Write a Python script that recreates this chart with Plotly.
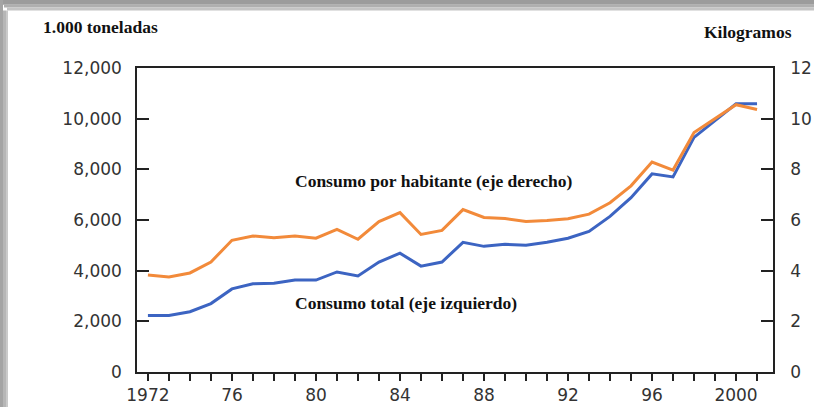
import plotly.graph_objects as go

years = list(range(1972, 2002))
consumo_total = [2230, 2230, 2380, 2700, 3280, 3480, 3500, 3630, 3630, 3950,
                 3790, 4340, 4690, 4180, 4340, 5120, 4960, 5040, 5000, 5120,
                 5280, 5550, 6140, 6880, 7820, 7700, 9260, 9930, 10590, 10590]
consumo_hab = [3.83, 3.75, 3.91, 4.34, 5.20, 5.37, 5.30, 5.37, 5.28, 5.63,
               5.24, 5.94, 6.29, 5.43, 5.59, 6.41, 6.10, 6.06, 5.94, 5.98,
               6.05, 6.23, 6.68, 7.35, 8.29, 7.97, 9.45, 10.00, 10.55, 10.36]
x_tick_labels = ["1972", "", "", "", "76", "", "", "", "80", "", "", "", "84", "", "", "",
                 "88", "", "", "", "92", "", "", "", "96", "", "", "", "2000", ""]
left_ticks = [0, 2000, 4000, 6000, 8000, 10000, 12000]
right_ticks = [0, 2, 4, 6, 8, 10, 12]

W, H = 824, 417
L, R, T, B = 137, 51, 68, 42
pw, ph = W - L - R, H - T - B

def px(xp):
    return (xp - L) / pw

def py(yp):
    return (H - B - yp) / ph

tickfont = dict(family="DejaVu Sans", size=17, color="#333333")
serif_bold = dict(family="Liberation Serif", size=17.5, color="#111111", weight="bold")
title_font = dict(family="Liberation Serif", size=17.5, color="#111111", weight="bold")

fig = go.Figure()
fig.add_trace(go.Scatter(x=years, y=consumo_total, mode="lines",
                         line=dict(color="#3C64C2", width=3), yaxis="y"))
fig.add_trace(go.Scatter(x=years, y=consumo_hab, mode="lines",
                         line=dict(color="#F28A3A", width=3), yaxis="y2"))

# shadow frame along the top and left edges (lighter towards the inside)
frame = []
top_bands = [(0, 4, "#9c9c9c"), (4, 7, "#afafaf"), (7, 10, "#c4c4c4")]
left_bands = [(0, 3, "#a4a4a4"), (3, 6, "#b6b6b6"), (6, 8, "#cacaca")]
for a, b, c in top_bands:
    frame.append(dict(type="rect", xref="paper", yref="paper", x0=px(a if a else -5),
                      x1=px(W + 5), y0=py(b), y1=py(a - 5 if a == 0 else a),
                      fillcolor=c, line=dict(width=0), layer="below"))
for a, b, c in left_bands:
    frame.append(dict(type="rect", xref="paper", yref="paper", x0=px(a - 5 if a == 0 else a),
                      x1=px(b), y0=py(H + 5), y1=py(10 if a else -5),
                      fillcolor=c, line=dict(width=0), layer="below"))

fig.update_layout(
    width=W, height=H, autosize=False,
    margin=dict(l=L, r=R, t=T, b=B),
    paper_bgcolor="white",
    plot_bgcolor="white",
    showlegend=False,
    xaxis=dict(range=[1971.48, 2001.76], tickmode="array", tickvals=years,
               ticktext=x_tick_labels, ticks="outside", ticklen=7, tickwidth=1.5,
               tickcolor="#222", showline=True, linecolor="#222", linewidth=1.5,
               mirror=True, showgrid=False, zeroline=False, tickfont=tickfont),
    yaxis=dict(range=[0, 12000], tickmode="array", tickvals=left_ticks,
               tickformat=",d", ticks="inside", ticklen=12, tickwidth=1.5,
               tickcolor="#222", showline=True, linecolor="#222", linewidth=1.5,
               showgrid=False, zeroline=False, tickfont=tickfont,
               ticklabelstandoff=10),
    yaxis2=dict(range=[0, 12], tickmode="array", tickvals=right_ticks,
                overlaying="y", side="right", ticks="inside", ticklen=12,
                tickwidth=1.5, tickcolor="#222", showline=True, linecolor="#222",
                linewidth=1.5, showgrid=False, zeroline=False, tickfont=tickfont,
                ticklabelstandoff=12),
    shapes=frame,
    annotations=[
        dict(text="Consumo por habitante (eje derecho)", xref="paper", yref="paper",
             x=px(293), y=py(182), xanchor="left", yanchor="middle",
             showarrow=False, font=serif_bold),
        dict(text="Consumo total (eje izquierdo)", xref="paper", yref="paper",
             x=px(293), y=py(305), xanchor="left", yanchor="middle",
             showarrow=False, font=serif_bold),
        dict(text="1.000 toneladas", xref="paper", yref="paper",
             x=px(41), y=py(27), xanchor="left", yanchor="middle",
             showarrow=False, font=title_font),
        dict(text="Kilogramos", xref="paper", yref="paper",
             x=px(794), y=py(32), xanchor="right", yanchor="middle",
             showarrow=False, font=title_font),
    ],
)

post = ("document.documentElement.style.overflow='hidden';"
        "document.body.style.margin='0';"
        "document.body.style.background='white';")

fig.write_html("out.html", config={"displayModeBar": False}, post_script=post)
